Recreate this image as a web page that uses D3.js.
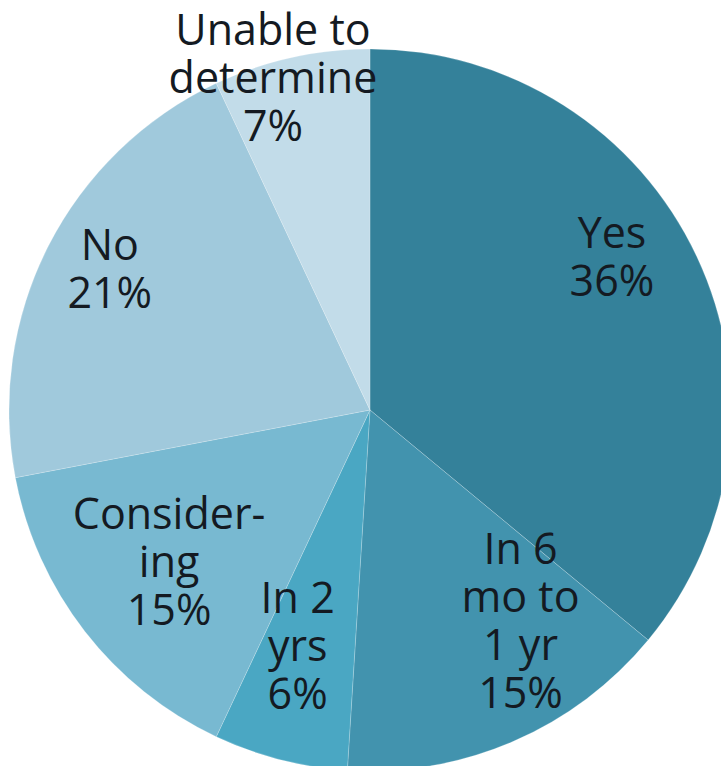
<!DOCTYPE html>
<html>
<head>
<meta charset="utf-8">
<script src="https://d3js.org/d3.v7.min.js"></script>
<style>
  html, body { margin: 0; padding: 0; background: #fff; }
  svg { display: block; }
</style>
</head>
<body>
<div id="chart"></div>
<script>
'use strict';

// ─── DATA ────────────────────────────────────────────────────

var categories = ['Yes', 'In 6 mo to 1 yr', 'In 2 yrs', 'Considering', 'No', 'Unable to determine'];
var values = [36, 15, 6, 15, 21, 7];
var labelLines = [
    ['Yes'],
    ['In 6', 'mo to', '1 yr'],
    ['In 2', 'yrs'],
    ['Consider-', 'ing'],
    ['No'],
    ['Unable to', 'determine']
];
var sliceColors = ['#34819a', '#4293ae', '#4aa7c3', '#78b9d1', '#a0c9dc', '#c2dce9'];

// ─── LAYOUT ──────────────────────────────────────────────────

var width = 721, height = 766;
var cx = 370, cy = 410, radius = 361;
var lineHeight = 48;
// pixel nudges away from the label centroid, to mimic Excel's best fit
var labelNudge = [[-3, -23], [43, -22], [-5, -11], [13, 1], [-19, -3], [-38, -53]];

var svg = d3.select('#chart')
    .append('svg')
    .attr('width', width)
    .attr('height', height);

var g = svg.append('g').attr('transform', 'translate(' + cx + ',' + cy + ')');

var pie = d3.pie().sort(null).value(function(d) { return d; });
var arcs = pie(values);

var arc = d3.arc().innerRadius(0).outerRadius(radius);
var labelArc = d3.arc().innerRadius(radius * 0.75).outerRadius(radius * 0.75);

g.selectAll('path')
    .data(arcs)
    .enter()
    .append('path')
    .attr('d', arc)
    .attr('fill', function(d, i) { return sliceColors[i]; })
    .attr('stroke', 'rgba(255,255,255,0.2)')
    .attr('stroke-width', 1);

// ─── LABELS ──────────────────────────────────────────────────

g.selectAll('text')
    .data(arcs)
    .enter()
    .append('text')
    .attr('text-anchor', 'middle')
    .attr('font-family', 'Open Sans, sans-serif')
    .attr('font-size', 43)
    .attr('fill', '#141a22')
    .each(function(d, i) {
        var c = labelArc.centroid(d);
        var x = c[0] + labelNudge[i][0];
        var y = c[1] + labelNudge[i][1];
        var lines = labelLines[i].concat([values[i] + '%']);
        var y0 = y - (lines.length - 1) * lineHeight / 2;
        var t = d3.select(this);
        lines.forEach(function(line, k) {
            t.append('tspan')
                .attr('x', x)
                .attr('y', y0 + k * lineHeight)
                .text(line);
        });
    });
</script>
</body>
</html>
